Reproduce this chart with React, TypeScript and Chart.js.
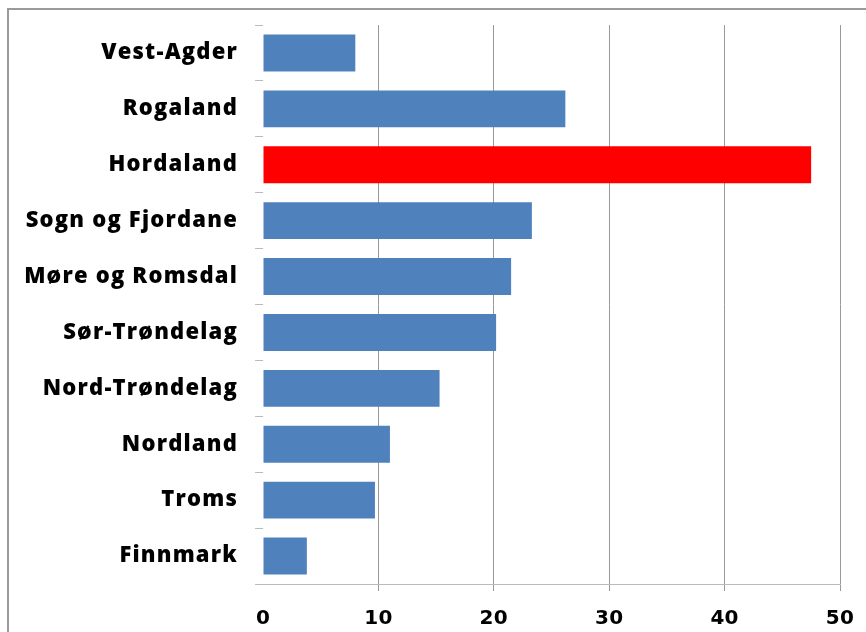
import React, { useEffect, useRef } from "react";
import { Chart, registerables } from "chart.js";

Chart.register(...registerables);

const categories = [
  "Vest-Agder",
  "Rogaland",
  "Hordaland",
  "Sogn og Fjordane",
  "Møre og Romsdal",
  "Sør-Trøndelag",
  "Nord-Trøndelag",
  "Nordland",
  "Troms",
  "Finnmark",
];
const values = [8.0, 26.2, 47.5, 23.3, 21.5, 20.2, 15.3, 11.0, 9.7, 3.8];
const highlighted = "Hordaland";
const xTicks = [0, 10, 20, 30, 40, 50];

const BLUE = "#4F81BD";
const RED = "#FF0000";

const spacingPlugin = {
  id: "letterSpacing",
  afterLayout(chart: any) {
    const xs = chart.scales.x;
    if (xs && !xs.__patched) {
      const orig = xs.drawLabels;
      xs.drawLabels = function (area: any) {
        const ctx = this.ctx as any;
        const prev = ctx.letterSpacing;
        ctx.letterSpacing = "0.3px";
        orig.call(this, area);
        ctx.letterSpacing = prev;
      };
      xs.__patched = true;
    }
  },
  beforeDraw(chart: any) {
    (chart.ctx as any).letterSpacing = "1.2px";
  },
};

const zeroPadding = (scale: any) => {
  scale.paddingTop = 0;
  scale.paddingBottom = 0;
  scale.paddingLeft = 0;
  scale.paddingRight = 0;
};

export default function App() {
  const ref = useRef<HTMLCanvasElement | null>(null);

  useEffect(() => {
    if (!ref.current) return;
    const chart = new Chart(ref.current, {
      type: "bar",
      data: {
        labels: categories,
        datasets: [
          {
            data: values,
            backgroundColor: categories.map((c) => (c === highlighted ? RED : BLUE)),
            borderWidth: 0,
            barPercentage: 0.66,
            categoryPercentage: 1,
          },
        ],
      },
      options: {
        indexAxis: "y",
        responsive: false,
        animation: false,
        layout: { padding: { top: 25, right: 26, left: 0, bottom: 0 } },
        plugins: {
          legend: { display: false },
          tooltip: { enabled: false },
        },
        scales: {
          x: {
            min: xTicks[0],
            max: xTicks[xTicks.length - 1],
            afterBuildTicks: (scale: any) => {
              scale.ticks = xTicks.map((v) => ({ value: v }));
            },
            afterFit: (scale: any) => {
              scale.height = 48;
              zeroPadding(scale);
            },
            grid: {
              color: (ctx: any) => (ctx.tick && ctx.tick.value === 0 ? "rgba(0,0,0,0)" : "#999999"),
              lineWidth: 1,
              tickLength: 7,
            },
            border: { display: true, color: "#bbbbbb", width: 1 },
            ticks: {
              color: "#000000",
              padding: 16,
              font: { family: "'DejaVu Sans'", size: 20, weight: "bold" },
            },
          },
          y: {
            afterFit: (scale: any) => {
              scale.width = 263;
              zeroPadding(scale);
            },
            grid: {
              drawOnChartArea: false,
              drawTicks: true,
              tickLength: 8,
              color: "#bbbbbb",
              offset: true,
            },
            border: { display: false },
            ticks: {
              color: "#000000",
              padding: 17,
              font: { family: "'Open Sans'", size: 22, weight: 800 },
            },
          },
        },
      },
      plugins: [spacingPlugin],
    } as any);
    return () => chart.destroy();
  }, []);

  return (
    <div style={{ position: "absolute", left: 0, top: 0, width: 866, height: 632, overflow: "hidden", background: "#fff" }}>
      <div
        style={{
          position: "absolute",
          left: 7,
          top: 8,
          width: 900,
          height: 700,
          borderLeft: "2px solid #9a9a9a",
          borderTop: "2px solid #9a9a9a",
        }}
      />
      <canvas ref={ref} width={866} height={632} style={{ position: "absolute", left: 0, top: 0 }} />
    </div>
  );
}
